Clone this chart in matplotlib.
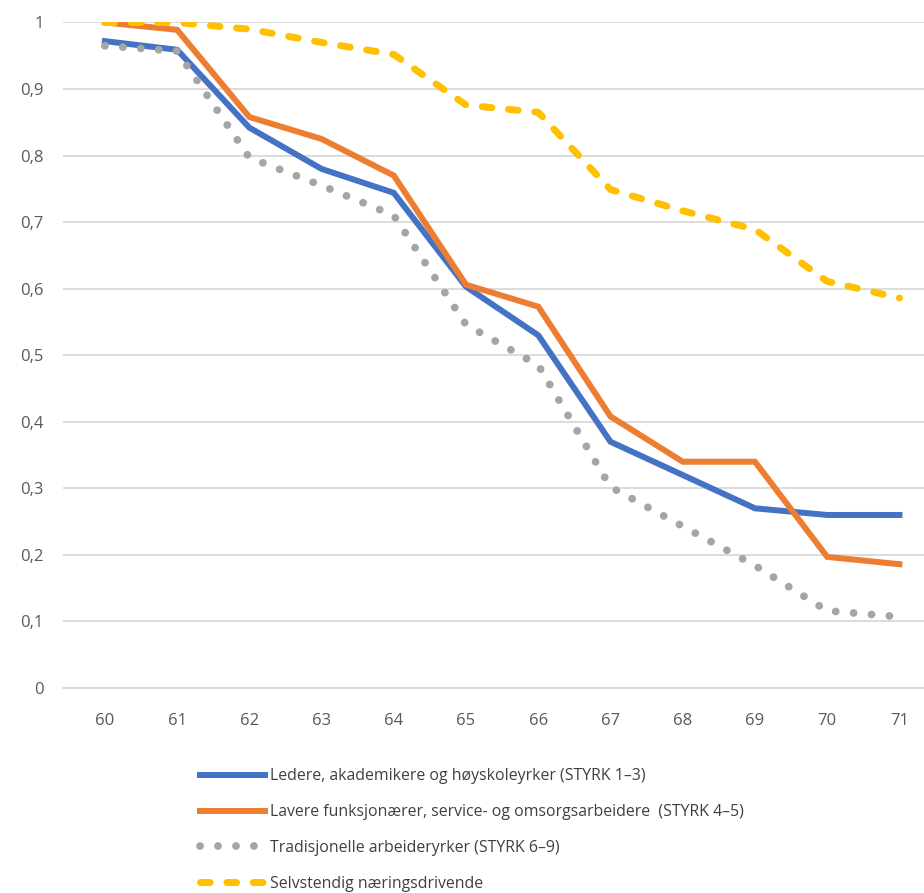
import numpy as np
import matplotlib.pyplot as plt

ages = ['60', '61', '62', '63', '64', '65', '66', '67', '68', '69', '70', '71']

ledere = [0.972, 0.959, 0.842, 0.780, 0.744, 0.603, 0.530, 0.370, 0.320, 0.270, 0.260, 0.260]
lavere = [1.000, 0.989, 0.858, 0.825, 0.770, 0.606, 0.573, 0.408, 0.340, 0.340, 0.197, 0.186]
tradisjonelle = [0.965, 0.957, 0.797, 0.755, 0.710, 0.546, 0.485, 0.302, 0.243, 0.184, 0.116, 0.107]
selvstendig = [1.000, 1.000, 0.990, 0.970, 0.952, 0.876, 0.865, 0.749, 0.717, 0.689, 0.611, 0.586]

labels = ['Ledere, akademikere og høyskoleyrker (STYRK 1–3)',
          'Lavere funksjonærer, service- og omsorgsarbeidere  (STYRK 4–5)',
          'Tradisjonelle arbeideryrker (STYRK 6–9)',
          'Selvstendig næringsdrivende']

plt.rcParams['font.family'] = ['Open Sans', 'DejaVu Sans']

fig = plt.figure(figsize=(9.24, 8.93), dpi=100)
ax = fig.add_axes([63 / 924, (893 - 688) / 893, 1 - 63 / 924, (688 - 22.5) / 893])

x = np.arange(len(ages))
ax.plot(x, ledere, color='#4472c4', lw=4.3, solid_joinstyle='miter', label=labels[0], zorder=3)
ax.plot(x, lavere, color='#ed7d31', lw=4.3, solid_joinstyle='miter', label=labels[1], zorder=3)
ax.plot(x, tradisjonelle, color='#a5a5a5', lw=5.6, linestyle=(0, (0.01, 2.3)),
        dash_capstyle='round', label=labels[2], zorder=3)
ax.plot(x, selvstendig, color='#ffc000', lw=5, linestyle=(0, (1.4, 2.4)),
        dash_capstyle='round', label=labels[3], zorder=3)

ax.set_xlim(-0.58, 11.34)
ax.set_ylim(0, 1)
ax.set_xticks(x)
ax.set_xticklabels(ages)
yt = np.arange(0, 1.01, 0.1)
ax.set_yticks(yt)
ax.set_yticklabels(['0'] + [f'{v:.1f}'.replace('.', ',') for v in yt[1:-1]] + ['1'])
ax.grid(axis='y', color='#d9d9d9', lw=1.3)
ax.set_axisbelow(True)
for s in ['top', 'right', 'left']:
    ax.spines[s].set_visible(False)
ax.spines['bottom'].set_color('#d9d9d9')
ax.spines['bottom'].set_linewidth(1.3)
ax.tick_params(length=0, labelsize=12, colors='#595959')
ax.tick_params(axis='x', pad=18)
ax.tick_params(axis='y', pad=14)

fig.legend(loc='upper left', bbox_to_anchor=(186 / 924, 1 - 754 / 893), frameon=False,
           fontsize=11.4, handlelength=4.1, handletextpad=0.3, labelspacing=1.25,
           labelcolor='#404040')

fig.savefig('out.png', dpi=100)
